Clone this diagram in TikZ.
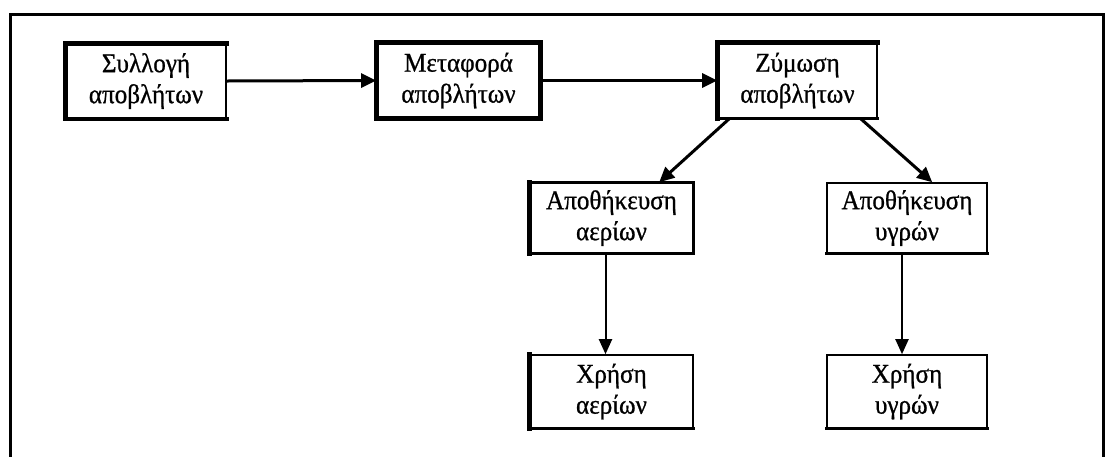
\documentclass[tikz,border=0pt]{standalone}
\usepackage{fontspec}
\setmainfont{Liberation Serif}
\newfontfamily\boxfont[FakeStretch=0.93,FakeBold=0.8]{Liberation Serif}
\usetikzlibrary{arrows.meta}
\tikzset{
  x=1pt, y=-1pt,
  stepbox/.style={draw, line width=1.6pt, inner sep=0pt,
    font=\boxfont\fontsize{27}{31}\selectfont, align=center},
  heavy/.style={line width=#1, line cap=rect},
  conn/.style={line width=3pt, -{Triangle[length=15pt, width=14pt]}},
  vconn/.style={line width=2pt, -{Triangle[length=15pt, width=13pt]}},
}
\begin{document}
\begin{tikzpicture}
\useasboundingbox (0,0) rectangle (1106,456);
% outer frame (open at bottom)
\draw[line width=3pt] (10,470) -- (10,14) -- (1103,14) -- (1103,470);
% boxes
\node[stepbox, minimum width=160pt, minimum height=74pt] (s) at (146,81) {Συλλογή\\αποβλήτων};
\node[stepbox, minimum width=163pt, minimum height=75pt] (m) at (458.5,80.5) {Μεταφορά\\αποβλήτων};
\node[stepbox, minimum width=159pt, minimum height=75pt] (z) at (797.5,80.5) {Ζύμωση\\αποβλήτων};
\node[stepbox, minimum width=163pt, minimum height=70pt] (ga) at (611.5,218) {Αποθήκευση\\αερίων};
\node[stepbox, minimum width=160pt, minimum height=70pt] (ya) at (907,218) {Αποθήκευση\\υγρών};
\node[stepbox, minimum width=163pt, minimum height=73pt] (gx) at (611.5,391.5) {Χρήση\\αερίων};
\node[stepbox, minimum width=160pt, minimum height=73pt] (yx) at (907,391.5) {Χρήση\\υγρών};
% heavier sides
\draw[heavy=5pt] (s.south west) -- (s.north west) -- (s.north east);
\draw[heavy=3.5pt] (s.south west) -- (s.south east);
\draw[heavy=5pt] (m.south west) -- (m.north west) -- (m.north east) -- (m.south east) -- cycle;
\draw[heavy=5pt] (z.south west) -- (z.north west) -- (z.north east);
\draw[heavy=3pt] (z.south west) -- (z.south east);
\draw[heavy=5pt] (ga.south west) -- (ga.north west);
\draw[heavy=3pt] (ga.north west) -- (ga.north east) -- (ga.south east) -- (ga.south west);
\draw[heavy=3pt] (ya.south west) -- (ya.south east);
\draw[heavy=5pt] (gx.south west) -- (gx.north west);
\draw[heavy=3pt] (gx.south west) -- (gx.south east);
\draw[heavy=3pt] (yx.south west) -- (yx.south east);
% connectors
\draw[conn] (s.east) -- (m.west);
\draw[conn] (m.east) -- (z.west);
\draw[conn] ([xshift=12pt]z.south west) -- ([xshift=130pt]ga.north west);
\draw[conn] ([xshift=-17pt]z.south east) -- ([xshift=106pt]ya.north west);
\draw[vconn] ([xshift=-6pt]ga.south) -- ([xshift=-6pt]gx.north);
\draw[vconn] ([xshift=-5pt]ya.south) -- ([xshift=-5pt]yx.north);
\end{tikzpicture}
\end{document}
